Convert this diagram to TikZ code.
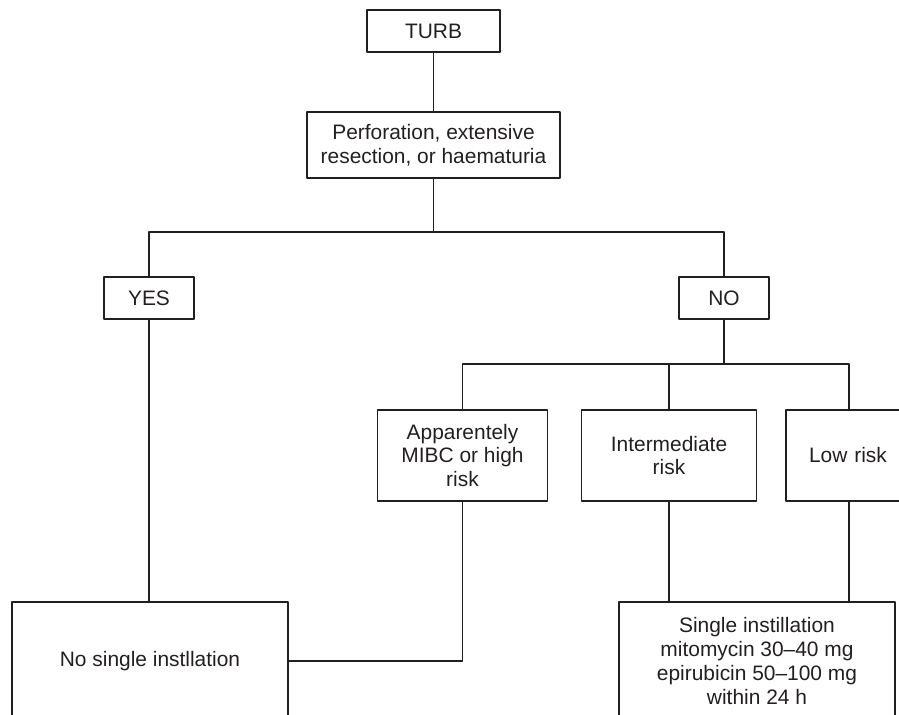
\documentclass[tikz,border=0pt]{standalone}
\usepackage{fontspec}
\setmainfont{Liberation Sans}
\usepackage{tikz}
\usetikzlibrary{calc}
\definecolor{ink}{HTML}{231F20}

\begin{document}
\begin{tikzpicture}[line cap=round,line join=round,x=1bp,y=-1bp,
  box/.style={draw=ink,text=ink,line width=1.2bp,inner sep=0pt,align=center,font=\fontsize{21}{24}\selectfont},
  link/.style={draw=ink,line width=1.4bp}]
			\clip (0,0) rectangle (899,715);
			\node[box,minimum width=133bp,minimum height=42bp] (turb) at (433.5,31) {TURB};
			\node[box,minimum width=253bp,minimum height=66bp] (perf) at (433.5,145) {Perforation, extensive\\resection, or haematuria};
			\node[box,minimum width=90bp,minimum height=42bp] (yes) at (149,298) {YES};
			\node[box,minimum width=90bp,minimum height=42bp] (no) at (724,298) {NO};
			\node[box,minimum width=170bp,minimum height=91bp] (appar) at (462.5,455.5) {Apparentely\\MIBC or high\\risk};
			\node[box,minimum width=175bp,minimum height=91bp] (inter) at (669,455.5) {Intermediate\\risk};
			\node[box,minimum width=126bp,minimum height=91bp,text width=126bp,align=left] (low) at (849,455.5) {\hspace*{1.1em}Low risk};
			\node[box,minimum width=276bp,minimum height=118bp] (nosingle) at (150,661) {No single instllation};
			\node[box,minimum width=276bp,minimum height=118bp] (single) at (757,661) {Single instillation\\mitomycin 30--40 mg\\epirubicin 50--100 mg\\within 24 h};
			\coordinate (split1) at (433.5,232);
			\coordinate (split2) at (724,364);
			\draw[link] (turb) -- (perf);
			\draw[link] (perf) -- (split1);
			\draw[link] (yes.north) |- (split1) -| (no.north);
			\draw[link] (no) -- (split2);
			\draw[link] (appar.north) |- (split2) -| (low.north);
			\draw[link] (split2 -| inter.north) -- (inter.north);
			\draw[link] (yes) -- (yes |- nosingle.north);
			\draw[link] (appar.south) |- (nosingle.east);
			\draw[link] (inter) -- (inter |- single.north);
			\draw[link] (low) -- (low |- single.north);
\end{tikzpicture}
\end{document}
